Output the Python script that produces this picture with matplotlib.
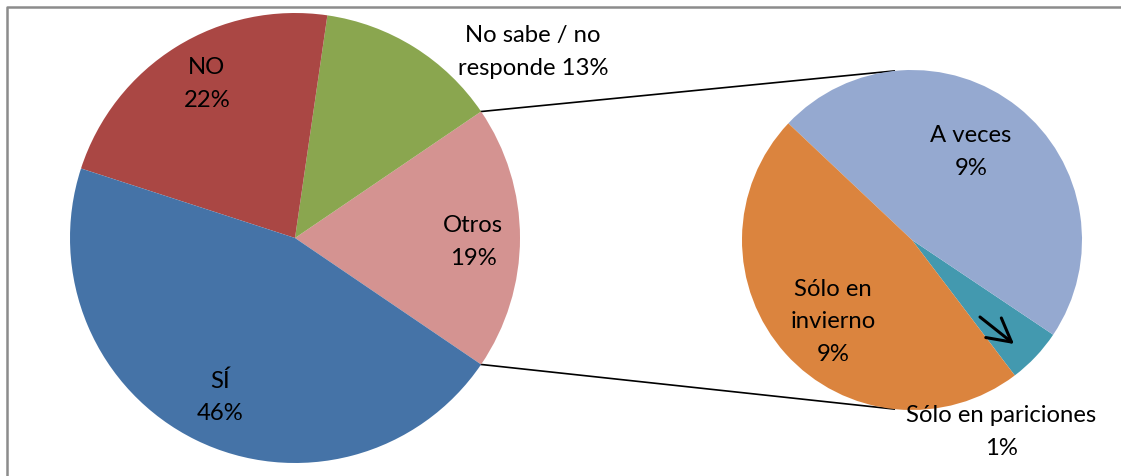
import numpy as np
import matplotlib
matplotlib.use("Agg")
import matplotlib.pyplot as plt

# main pie (percent of total)
main_labels = ["Otros\n19%", "No sabe / no\nresponde 13%", "NO\n22%", "SÍ\n46%"]
main_values = [19.0, 13.2, 22.3, 45.5]
main_colors = ["#D49391", "#8AA64F", "#AA4744", "#4573A7"]

# breakdown of "Otros"
sub_labels = ["Sólo en pariciones\n1%", "A veces\n9%", "Sólo en\ninvierno\n9%"]
sub_values = [1, 9, 9]
sub_colors = ["#4399AF", "#95A9D0", "#DB843E"]

W, H = 1121, 476
plt.rcParams['font.family'] = ['Lato', 'DejaVu Sans']

fig = plt.figure(figsize=(W / 100, H / 100), dpi=100)
ax = fig.add_axes([0, 0, 1, 1])

# geometry in pixel units (y measured upward)
c1, r1 = (295, H - 238), 225
c2, r2 = (912, H - 240), 170

start1 = -main_values[0] / sum(main_values) * 360 / 2
ax.pie(main_values, colors=main_colors, startangle=start1, center=c1,
       radius=r1, frame=True, wedgeprops=dict(linewidth=0))

start2 = -52.8
ax.pie(sub_values, colors=sub_colors, startangle=start2, center=c2,
       radius=r2, frame=True, wedgeprops=dict(linewidth=0))

# connector lines from the "Otros" slice to the secondary pie
for a1, a2 in [(-start1, 96), (start1, 264)]:
    p1 = (c1[0] + r1 * np.cos(np.radians(a1)), c1[1] + r1 * np.sin(np.radians(a1)))
    p2 = (c2[0] + r2 * np.cos(np.radians(a2)), c2[1] + r2 * np.sin(np.radians(a2)))
    ax.plot([p1[0], p2[0]], [p1[1], p2[1]], color='black', lw=1.2, zorder=0)

# data labels
fs = 17.2
ls = 1.65
main_pos = [(473, 242), (533, 52), (207, 84), (220, 397)]
for lab, (x, y) in zip(main_labels, main_pos):
    ax.text(x, H - y, lab, ha='center', va='center', fontsize=fs, linespacing=ls)
sub_pos = [(1001, 432), (971, 152), (833, 322)]
for lab, (x, y) in zip(sub_labels, sub_pos):
    ax.text(x, H - y, lab, ha='center', va='center', fontsize=fs, linespacing=ls)

# leader arrow pointing into the small slice
ax.annotate("", xy=(1014, H - 344), xytext=(980, H - 317),
            arrowprops=dict(arrowstyle='->,head_length=0.55,head_width=0.3',
                            color='black', lw=2.2, mutation_scale=30,
                            shrinkA=0, shrinkB=0))

# chart border (only top and left visible)
ax.plot([7, 7, W + 5], [-5, H - 7, H - 7], color='#8C8C8C', lw=1.8)

ax.set_xlim(0, W)
ax.set_ylim(0, H)
ax.set_aspect('equal')
ax.axis('off')

fig.savefig("out.png", dpi=100)
